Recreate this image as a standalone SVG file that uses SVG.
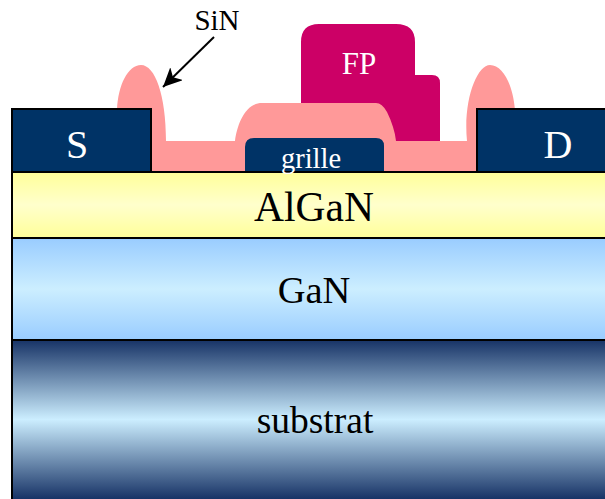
<svg xmlns="http://www.w3.org/2000/svg" width="605" height="499" viewBox="0 0 605 499">
<style>
text{font-family:"Liberation Serif","Times New Roman",serif;text-anchor:middle}
.w{fill:#fff}.k{fill:#000}
.layer{stroke:#000;stroke-width:2}
.sin{fill:#ff9999}
.navy{fill:#003366}
.fp{fill:#cc0066}
</style>
<defs>
<linearGradient id="gy" x1="0" y1="0" x2="0" y2="1"><stop offset="0" stop-color="#ffff99"/><stop offset=".5" stop-color="#ffffcc"/><stop offset="1" stop-color="#ffff99"/></linearGradient>
<linearGradient id="gb" x1="0" y1="0" x2="0" y2="1"><stop offset="0" stop-color="#99ccff"/><stop offset=".5" stop-color="#cceeff"/><stop offset="1" stop-color="#99ccff"/></linearGradient>
<linearGradient id="gs" gradientUnits="userSpaceOnUse" x1="0" y1="340" x2="0" y2="499"><stop offset="0" stop-color="#173366"/><stop offset=".5" stop-color="#cceeff"/><stop offset="1" stop-color="#173366"/></linearGradient>
<marker id="arr" markerUnits="userSpaceOnUse" markerWidth="22" markerHeight="22" refX="19" refY="9" orient="auto"><path d="M0 0L19 9L0 18L5 9Z" fill="#000"/></marker>
</defs>
<g id="fp"><path class="fp" d="M301 120V42Q301 24 319 24H396Q415 24 415 42V75H432Q440 75 440 83V141H301Z"/><text class="w" x="359" y="74" font-size="31">FP</text></g>
<g id="sin"><path class="sin" d="M117 110C118 85 128 65 141 65C155 65 166 95 166 141H235C237 125 245 103 262 103H376Q382 103 387 112C392 122 395 132 396 141H467C463 100 477 65 490 65C503 65 513 85 515 110V172H117Z"/></g>
<g id="algan"><rect class="layer" x="12" y="172" width="600" height="66" fill="url(#gy)"/><text class="k" x="314" y="221" font-size="41.5">AlGaN</text></g>
<g id="gan"><rect class="layer" x="12" y="238" width="600" height="102" fill="url(#gb)"/><text class="k" x="314" y="303" font-size="38.5">GaN</text></g>
<g id="substrat"><rect class="layer" x="12" y="340" width="600" height="170" fill="url(#gs)"/><text class="k" x="315" y="433" font-size="37.5">substrat</text></g>
<g id="source"><rect class="navy layer" x="12" y="109" width="139" height="63"/><text class="w" x="77" y="158" font-size="40">S</text></g>
<g id="drain"><rect class="navy layer" x="477" y="109" width="140" height="63"/><text class="w" x="558" y="158" font-size="40">D</text></g>
<g id="grille"><path class="navy" d="M245 171V147Q245 138 254 138H376Q384 138 384 146V171Z"/><text class="w" x="311" y="168" font-size="28.5">grille</text></g>
<g id="connectors"><line x1="214" y1="37" x2="163" y2="87" stroke="#000" stroke-width="2" marker-end="url(#arr)"/></g>
<text class="k" x="217" y="30" font-size="29">SiN</text>
</svg>
